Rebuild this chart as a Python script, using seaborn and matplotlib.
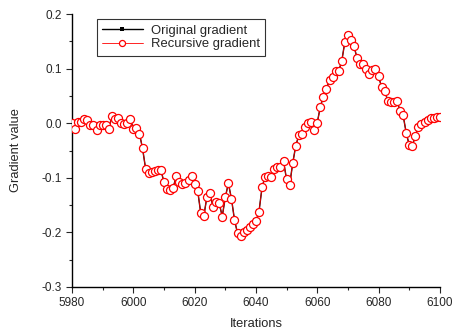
import numpy as np
import pandas as pd
import matplotlib
matplotlib.use('Agg')
import matplotlib.pyplot as plt
import seaborn as sns
from matplotlib.ticker import MultipleLocator

iterations = list(range(5980, 6101))

gradient = [
    0.000, -0.010, 0.003, 0.002, 0.008, 0.006, -0.004, -0.003, -0.013, -0.004,
    -0.003, -0.003, -0.011, 0.013, 0.007, 0.009, 0.000, -0.002, 0.001, 0.008,
    -0.010, -0.009, -0.019, -0.046, -0.083, -0.092, -0.090, -0.088, -0.085, -0.086,
    -0.108, -0.120, -0.122, -0.118, -0.097, -0.107, -0.112, -0.110, -0.104, -0.096,
    -0.112, -0.124, -0.165, -0.170, -0.135, -0.127, -0.154, -0.144, -0.146, -0.171,
    -0.136, -0.110, -0.138, -0.177, -0.202, -0.207, -0.199, -0.196, -0.190, -0.185,
    -0.180, -0.162, -0.117, -0.098, -0.097, -0.099, -0.083, -0.080, -0.081, -0.070,
    -0.103, -0.113, -0.073, -0.041, -0.022, -0.020, -0.006, 0.000, 0.003, -0.012,
    0.001, 0.030, 0.049, 0.062, 0.080, 0.085, 0.095, 0.096, 0.114, 0.149,
    0.162, 0.152, 0.141, 0.119, 0.108, 0.108, 0.100, 0.091, 0.097, 0.100,
    0.086, 0.066, 0.060, 0.041, 0.039, 0.039, 0.041, 0.023, 0.015, -0.017,
    -0.040, -0.042, -0.023, -0.006, -0.002, 0.003, 0.006, 0.009, 0.009, 0.012,
    0.012,
]

df = pd.DataFrame({'Iterations': iterations, 'Gradient value': gradient})

sns.set_style('ticks')
plt.rcParams['font.family'] = ['Liberation Sans', 'DejaVu Sans']

fig = plt.figure(figsize=(4.53, 3.29), dpi=100)
ax = fig.add_axes([0.159, 0.128, 0.812, 0.829])

sns.lineplot(data=df, x='Iterations', y='Gradient value', ax=ax, color='black',
             lw=1.0, marker='s', markersize=4, markeredgewidth=0,
             label='Original gradient', zorder=2)
sns.lineplot(data=df, x='Iterations', y='Gradient value', ax=ax, color='red',
             lw=0.6, marker='o', markersize=5.8, markerfacecolor='white',
             markeredgecolor='red', markeredgewidth=0.9,
             label='Recursive gradient', zorder=3)

ax.set_xlim(5980, 6100)
ax.set_ylim(-0.3, 0.2)
ax.xaxis.set_major_locator(MultipleLocator(20))
ax.xaxis.set_minor_locator(MultipleLocator(10))
ax.yaxis.set_major_locator(MultipleLocator(0.1))
ax.yaxis.set_minor_locator(MultipleLocator(0.05))
ax.yaxis.set_major_formatter(plt.FuncFormatter(lambda v, p: f'{v:.1f}'))
ax.tick_params(which='major', length=4, width=0.8, labelsize=8.5, direction='out')
ax.tick_params(which='minor', length=2.5, width=0.8, direction='out')
sns.despine(ax=ax)
for s in ['left', 'bottom']:
    ax.spines[s].set_linewidth(1.0)
    ax.spines[s].set_color('black')

ax.set_xlabel('Iterations', fontsize=9.3, labelpad=6)
ax.set_ylabel('Gradient value', fontsize=9.3, labelpad=14)

leg = ax.legend(loc='upper left', bbox_to_anchor=(0.068, 0.981), borderaxespad=0,
                fontsize=9.4, frameon=True, fancybox=False, edgecolor='black',
                handlelength=3.1, borderpad=0.4, labelspacing=0.12,
                handletextpad=0.6, markerscale=0.75)
leg.get_frame().set_linewidth(0.8)

fig.savefig('out.png', dpi=100)
